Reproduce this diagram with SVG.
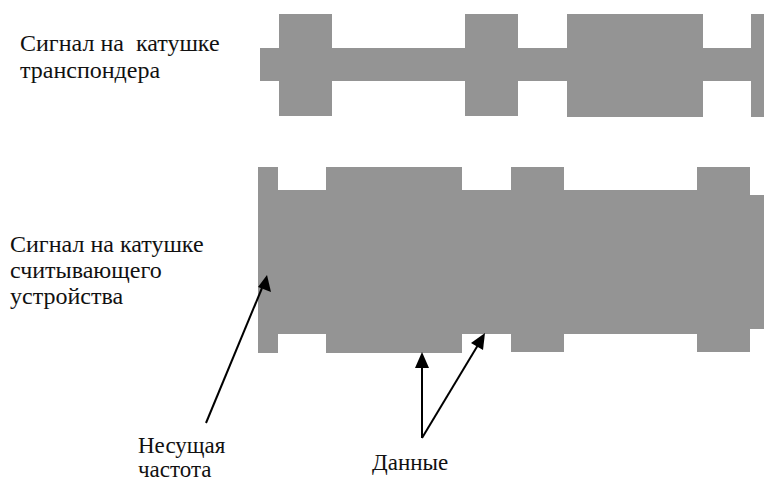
<svg xmlns="http://www.w3.org/2000/svg" width="764" height="480" viewBox="0 0 764 480">
<rect width="764" height="480" fill="#fff"/>
<g id="transponder-signal" fill="#949494">
<rect x="260" y="48" width="504" height="33"/>
<rect x="279" y="14" width="53" height="102"/>
<rect x="465" y="14" width="53" height="102"/>
<rect x="567" y="14" width="136" height="103"/>
<rect x="751" y="14" width="13" height="103"/>
</g>
<g id="reader-signal" fill="#949494">
<rect x="258" y="190" width="492" height="144"/>
<rect x="750" y="195" width="14" height="134"/>
<rect x="258" y="167" width="20" height="186"/>
<rect x="326" y="167" width="136" height="186"/>
<rect x="511" y="167" width="53" height="185"/>
<rect x="697" y="167" width="53" height="185"/>
</g>
<g id="label-transponder">
<text x="20" y="51" font-family="'Liberation Serif', serif" style="font-family:'Liberation Serif',serif" font-size="24" fill="#111" xml:space="preserve">Сигнал на  катушке</text>
<text x="20" y="78" font-family="'Liberation Serif', serif" style="font-family:'Liberation Serif',serif" font-size="24" fill="#111">транспондера</text>
</g>
<g id="label-reader">
<text x="10" y="252" font-family="'Liberation Serif', serif" style="font-family:'Liberation Serif',serif" font-size="24" fill="#111">Сигнал на катушке</text>
<text x="10" y="278" font-family="'Liberation Serif', serif" style="font-family:'Liberation Serif',serif" font-size="24" fill="#111">считывающего</text>
<text x="10" y="304" font-family="'Liberation Serif', serif" style="font-family:'Liberation Serif',serif" font-size="24" fill="#111">устройства</text>
</g>
<g id="label-carrier">
<text x="138" y="453" font-family="'Liberation Serif', serif" style="font-family:'Liberation Serif',serif" font-size="23" fill="#111">Несущая</text>
<text x="138" y="477" font-family="'Liberation Serif', serif" style="font-family:'Liberation Serif',serif" font-size="23" fill="#111">частота</text>
</g>
<g id="label-data">
<text x="372" y="470" font-family="'Liberation Serif', serif" style="font-family:'Liberation Serif',serif" font-size="23" fill="#111">Данные</text>
</g>
<g id="connectors" stroke="#000" stroke-width="2" fill="#000">
<line x1="206" y1="423" x2="262" y2="288"/>
<polygon stroke="none" points="267,275 271,292 258,287"/>
<line x1="422" y1="438" x2="422" y2="365"/>
<polygon stroke="none" points="422,352 429,368 415,368"/>
<line x1="422" y1="438" x2="478" y2="345"/>
<polygon stroke="none" points="485,333 483,350 471,343"/>
</g>
</svg>
